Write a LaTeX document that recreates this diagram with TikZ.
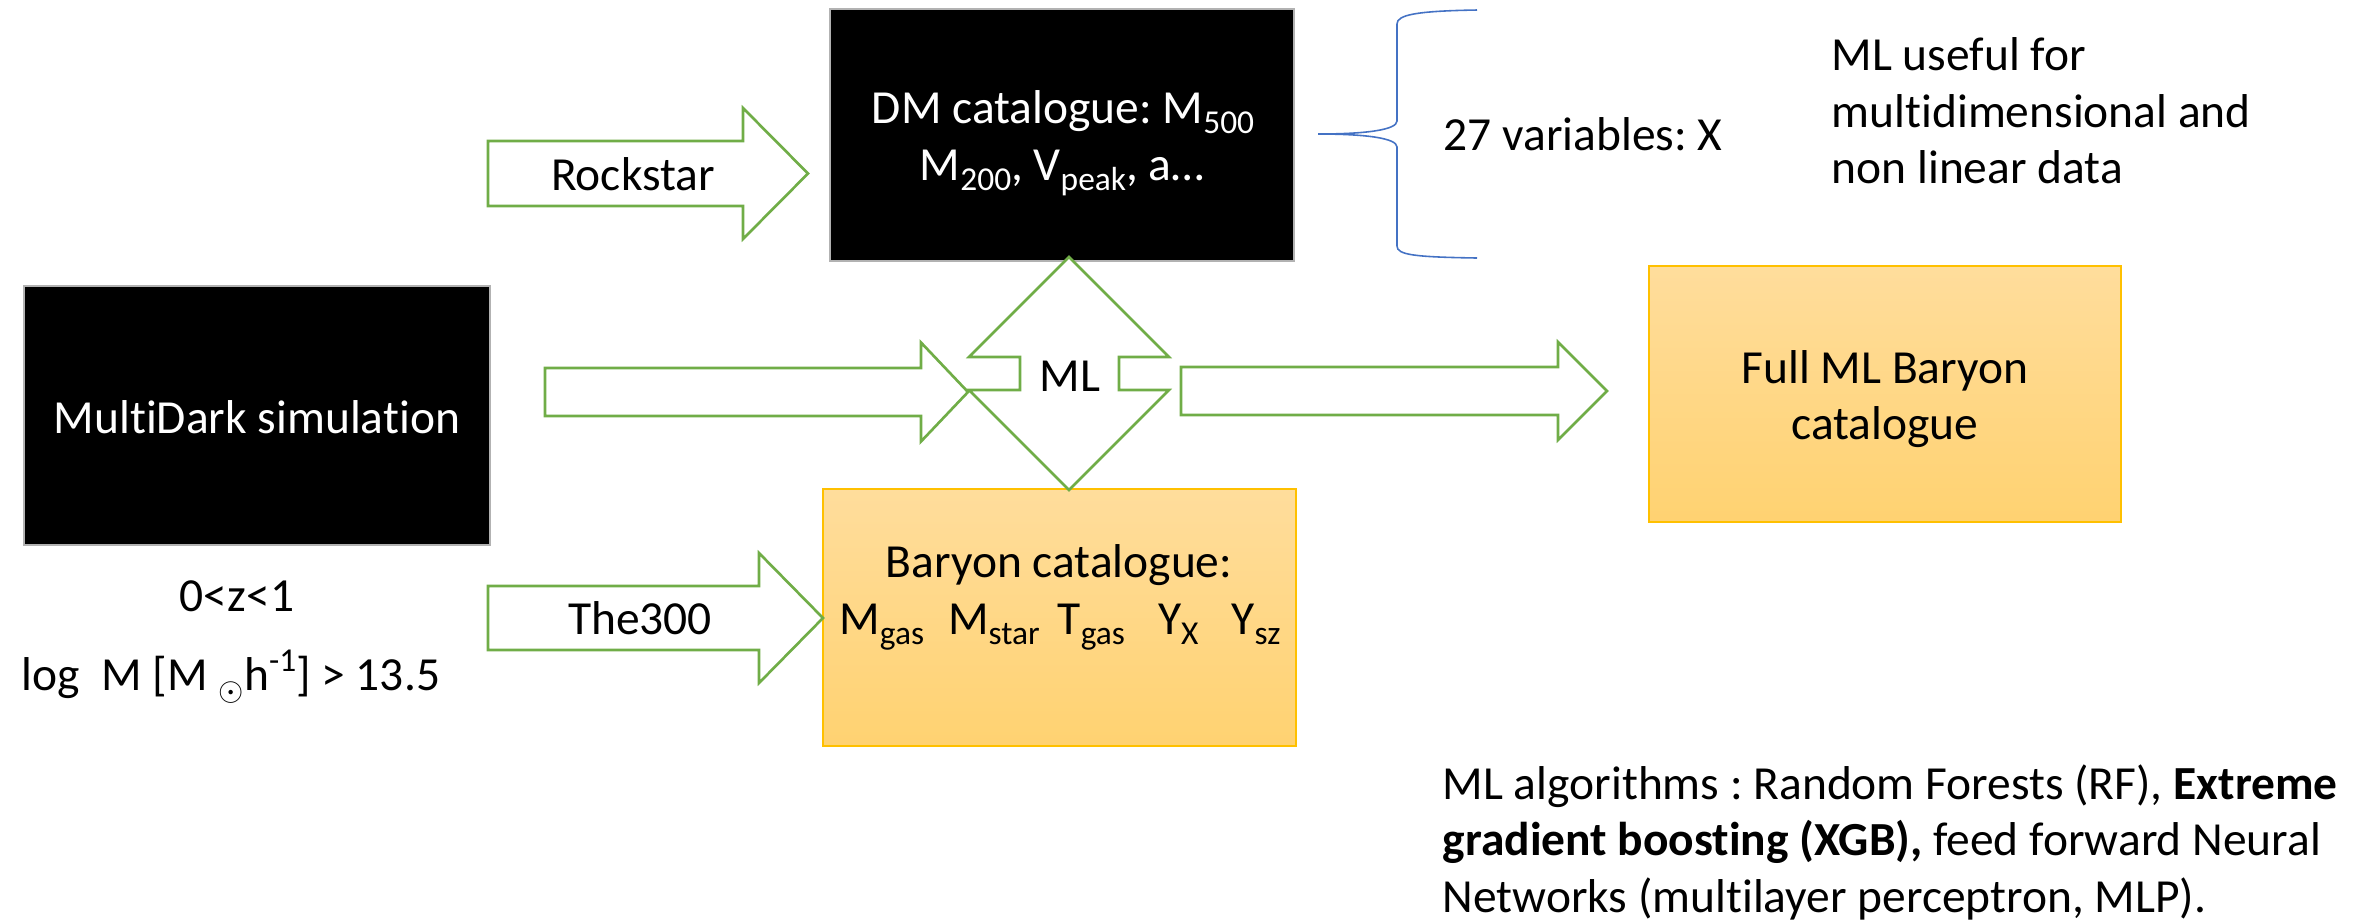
\documentclass[tikz,border=0pt]{standalone}
\usepackage{fontspec}
\setmainfont{Carlito}[Ligatures=NoCommon]
\frenchspacing
\definecolor{arrgreen}{HTML}{70AD47}
\definecolor{bracblue}{HTML}{4472C4}
\definecolor{goldtop}{HTML}{FFDD9C}
\definecolor{goldbot}{HTML}{FFD271}
\definecolor{goldline}{HTML}{FFC000}
\newcommand{\sbs}[1]{\raisebox{-0.23em}{\fontsize{9.5}{9.5}\selectfont #1}}
\newcommand{\sps}[1]{\raisebox{0.38em}{\fontsize{9.5}{9.5}\selectfont #1}}
% block arrow: #1 x start, #2 x tip, #3 y centre, #4 shaft half, #5 head half, #6 head length
\newcommand{\blkarrow}[6]{%
  \draw[blkarr] (#1,#3-#4) -- (#2-#6,#3-#4) -- (#2-#6,#3-#5) -- (#2,#3)
    -- (#2-#6,#3+#5) -- (#2-#6,#3+#4) -- (#1,#3+#4) -- cycle;}
\begin{document}
\begin{tikzpicture}[x=0.01cm,y=-0.01cm,
  txt/.style={inner sep=0pt,font=\fontsize{13.5}{16.2}\selectfont},
  wtxt/.style={txt,text=white},
  blackbox/.style={draw=gray!60,line width=0.4pt,fill=black,inner sep=0pt},
  goldbox/.style={draw=goldline,line width=0.6pt,top color=goldtop,bottom color=goldbot,inner sep=0pt},
  blkarr/.style={draw=arrgreen,line width=0.75pt,fill=white,line join=miter},
  brace/.style={draw=bracblue,line width=0.45pt}]
\useasboundingbox (0,0) rectangle (2374,923);

% boxes
\node[blackbox,minimum width=4.66cm,minimum height=2.59cm] (md) at (257,415.5) {};
\node[blackbox,minimum width=4.64cm,minimum height=2.52cm] (dm) at (1062,135) {};
\node[goldbox,minimum width=4.73cm,minimum height=2.57cm] (bar) at (1059.5,617.5) {};
\node[goldbox,minimum width=4.72cm,minimum height=2.56cm] (full) at (1885,394) {};

% box texts
\node[wtxt,anchor=base] (mdt) at (257,433) {MultiDark simulation};
\node[wtxt,anchor=base] (dmt1) at (1063,123) {DM catalogue: M\sbs{500}};
\node[wtxt,anchor=base] (dmt2) at (1062,180) {M\sbs{200}, V\sbs{peak}, a…};
\node[txt,anchor=base] (bart1) at (1059,577) {Baryon catalogue:};
\node[txt,anchor=base] (bart2) at (1060,634) {M\sbs{gas}\hspace{6.8pt}M\sbs{star}\hspace{5.1pt}T\sbs{gas}\hspace{9.4pt}Y\sbs{X}\hspace{9.4pt}Y\sbs{sz}};
\node[txt,anchor=base] (fullt1) at (1885,383) {Full ML Baryon};
\node[txt,anchor=base] (fullt2) at (1885,439) {catalogue};

% block arrows
\blkarrow{488}{808}{173.5}{32.5}{65.5}{65}
\blkarrow{545}{968}{392}{24}{49.5}{47}
\blkarrow{1181}{1607}{391}{24}{49}{49}
\blkarrow{488}{823}{618}{32}{65}{64}

% ML up-down arrow callout
\draw[blkarr] (1069,257) -- (969,357) -- (1020,357) -- (1020,390) -- (969,390)
  -- (1069,490) -- (1169,390) -- (1119,390) -- (1119,357) -- (1169,357) -- cycle;

\node[txt,anchor=base] (rock) at (633,190) {Rockstar};
\node[txt,anchor=base] (the300) at (640,634) {The300};
\node[txt,anchor=base] (ml) at (1070,391) {ML};

% left notes
\node[txt,anchor=base] (zr) at (237,611) {0<z<1};
\node[txt,anchor=base] (lm) at (231,690) {log\ \ M [M \sbs{$\odot$}h\sps{-1}] > 13.5};

% brace
\coordinate (btop) at (1477,10);
\coordinate (bbot) at (1477,258);
\coordinate (btip) at (1318,134);
\draw[brace] (btop) .. controls (1415,11) and (1397,15) .. (1397,24)
  -- (1397,121) .. controls (1397,130) and (1365,134) .. (btip)
  .. controls (1365,134) and (1397,138) .. (1397,147)
  -- (1397,246) .. controls (1397,255) and (1415,257) .. (bbot);
\node[txt,anchor=base west] (vars) at (1443,150) {27 variables: X};

% right notes
\node[txt,anchor=base west] (use1) at (1831,70) {ML useful for};
\node[txt,anchor=base west] (use2) at (1831,127) {multidimensional and};
\node[txt,anchor=base west] (use3) at (1831,183) {non linear data};

\node[txt,anchor=base west] (alg1) at (1442,799) {ML algorithms : Random Forests (RF), \textbf{Extreme}};
\node[txt,anchor=base west] (alg2) at (1442,855) {\textbf{gradient boosting (XGB),} feed forward Neural};
\node[txt,anchor=base west] (alg3) at (1442,912) {Networks (multilayer perceptron, MLP).};
\end{tikzpicture}
\end{document}
